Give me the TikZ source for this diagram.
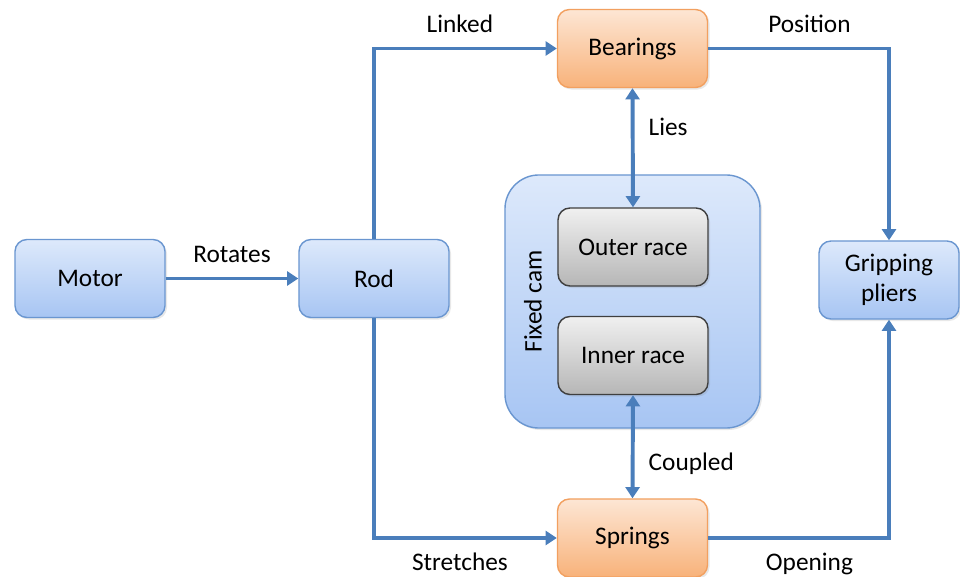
\documentclass[tikz,border=0pt]{standalone}
\usepackage{fontspec}
\setmainfont{Carlito}
\usetikzlibrary{arrows.meta,shadows}
\definecolor{flowblue}{HTML}{4A7EBB}
\definecolor{bluetop}{HTML}{DDE9FB}
\definecolor{bluebot}{HTML}{A7C5F3}
\definecolor{blueline}{HTML}{6A96D0}
\definecolor{orangetop}{HTML}{FDE6D4}
\definecolor{orangebot}{HTML}{F8B27A}
\definecolor{orangeline}{HTML}{F2A060}
\definecolor{graytop}{HTML}{F0F0F0}
\definecolor{graybot}{HTML}{B6B6B6}
\definecolor{grayline}{HTML}{3F3F3F}
\begin{document}
\begin{tikzpicture}[x=0.025cm,y=-0.025cm,font=\fontsize{18}{21.5}\selectfont,
	box/.style={rounded corners=0.3cm,line width=1pt,minimum width=3.75cm,minimum height=1.95cm,align=center,drop shadow={opacity=0.18,shadow xshift=0.05cm,shadow yshift=-0.05cm}},
	bluebox/.style={box,draw=blueline,top color=bluetop,bottom color=bluebot},
	orangebox/.style={box,draw=orangeline,top color=orangetop,bottom color=orangebot},
	graybox/.style={box,draw=grayline,top color=graytop,bottom color=graybot},
	cambox/.style={rounded corners=0.85cm,line width=1pt,draw=blueline,top color=bluetop,bottom color=bluebot,minimum width=6.375cm,minimum height=6.325cm,drop shadow={opacity=0.18,shadow xshift=0.05cm,shadow yshift=-0.05cm}},
	flow/.style={draw=flowblue,line width=2.8pt,-{Triangle[length=8pt,width=10pt]}},
	twoway/.style={draw=flowblue,line width=2.8pt,{Triangle[length=8pt,width=10pt]}-{Triangle[length=8pt,width=10pt]}},
	lbl/.style={inner sep=0pt,text height=12pt,text depth=4pt}]
	\useasboundingbox (0,0) rectangle (960,577);
	% boxes
	\node[bluebox](motor) at (90,278.5){Motor};
	\node[bluebox](rod) at (374,278.5){Rod};
	\node[orangebox](bearings) at (632.5,48.5){Bearings};
	\node[orangebox](springs) at (632.5,538){Springs};
	\node[cambox](cam) at (632.5,301.5){};
	\node[rotate=90](camlabel) at (533,301.5){Fixed cam};
	\node[graybox](outer) at (633,247){Outer race};
	\node[graybox](inner) at (633,355.5){Inner race};
	\node[bluebox,minimum width=3.5cm](pliers) at (889,280){Gripping\\pliers};
	% connectors
	\draw[flow](motor)--node[lbl,above=6pt]{Rotates}(rod);
	\draw[flow](rod.north)|-node[lbl,above=6pt,pos=0.735]{Linked}(bearings.west);
	\draw[flow](rod.south)|-node[lbl,below=9.5pt,pos=0.735]{Stretches}(springs.west);
	\draw[flow](bearings.east)-|node[lbl,above=6pt,pos=0.28]{Position}(pliers.north);
	\draw[flow](springs.east)-|node[lbl,below=9.5pt,pos=0.28]{Opening}(pliers.south);
	\draw[twoway](bearings.south)--node[lbl,right=10pt,pos=0.35]{Lies}(outer.north);
	\draw[twoway](inner.south)--node[lbl,right=10pt,pos=0.68]{Coupled}(springs.north);
\end{tikzpicture}
\end{document}
